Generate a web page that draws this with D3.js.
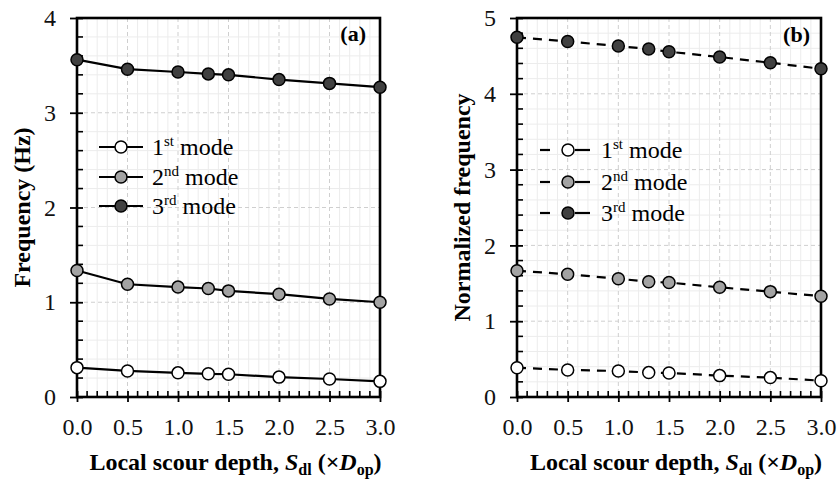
<!DOCTYPE html>
<html>
<head>
<meta charset="utf-8">
<script src="https://cdn.jsdelivr.net/npm/d3@7"></script>
<style>
  html, body { margin: 0; padding: 0; background: #fff; }
  svg { display: block; }
</style>
</head>
<body>
<svg id="chart" width="837" height="480"></svg>
<script>
// Local scour depth (×D_op)
const scourDepth = [0.0, 0.5, 1.0, 1.3, 1.5, 2.0, 2.5, 3.0];

// Panel (a): natural frequency (Hz)
const freqMode1 = [0.31, 0.275, 0.255, 0.245, 0.24, 0.21, 0.19, 0.165];
const freqMode2 = [1.335, 1.19, 1.16, 1.145, 1.12, 1.085, 1.035, 1.00];
const freqMode3 = [3.56, 3.46, 3.43, 3.41, 3.40, 3.35, 3.31, 3.27];

// Panel (b): normalized frequency
const normMode1 = [0.387, 0.357, 0.343, 0.322, 0.317, 0.282, 0.256, 0.215];
const normMode2 = [1.666, 1.62, 1.56, 1.52, 1.51, 1.447, 1.39, 1.33];
const normMode3 = [4.745, 4.69, 4.63, 4.59, 4.555, 4.485, 4.41, 4.33];

const xTicks = [0.0, 0.5, 1.0, 1.5, 2.0, 2.5, 3.0];
const yTicksA = [0, 1, 2, 3, 4];
const yTicksB = [0, 1, 2, 3, 4, 5];

const modeNames = [["1", "st"], ["2", "nd"], ["3", "rd"]];
const modeFills = ["#ffffff", "#a3a3a3", "#404040"];

const SERIF = "'Liberation Serif'";
const svg = d3.select("#chart");

function drawPanel(cfg) {
  const { left, right, top, bottom, yMax, yTicks, series, dashed, tag, yTitle, yTitleX, legend } = cfg;
  const x = d3.scaleLinear().domain([0, 3]).range([left, right]);
  const y = d3.scaleLinear().domain([0, yMax]).range([bottom, top]);
  const g = svg.append("g");

  // minor grid
  const minorX = d3.range(0, 3.0001, 0.1).filter(v => Math.abs(v * 2 - Math.round(v * 2)) > 1e-6);
  const minorY = d3.range(0, yMax + 0.0001, 0.2).filter(v => Math.abs(v - Math.round(v)) > 1e-6);
  g.append("g").selectAll("line").data(minorX).join("line")
    .attr("x1", d => x(d)).attr("x2", d => x(d)).attr("y1", top).attr("y2", bottom)
    .attr("stroke", "#ececec").attr("stroke-width", 1);
  g.append("g").selectAll("line").data(minorY).join("line")
    .attr("y1", d => y(d)).attr("y2", d => y(d)).attr("x1", left).attr("x2", right)
    .attr("stroke", "#ececec").attr("stroke-width", 1);
  // major grid (dashed)
  g.append("g").selectAll("line").data(xTicks.slice(1, -1)).join("line")
    .attr("x1", d => x(d)).attr("x2", d => x(d)).attr("y1", top).attr("y2", bottom)
    .attr("stroke", "#cfcfcf").attr("stroke-width", 1).attr("stroke-dasharray", "4,3");
  g.append("g").selectAll("line").data(yTicks.slice(1, -1)).join("line")
    .attr("y1", d => y(d)).attr("y2", d => y(d)).attr("x1", left).attr("x2", right)
    .attr("stroke", "#cfcfcf").attr("stroke-width", 1).attr("stroke-dasharray", "4,3");

  // minor ticks (inside)
  g.append("g").selectAll("line").data(minorX).join("line")
    .attr("x1", d => x(d)).attr("x2", d => x(d)).attr("y1", bottom).attr("y2", bottom - 6)
    .attr("stroke", "#000").attr("stroke-width", 1.6);
  g.append("g").selectAll("line").data(minorY).join("line")
    .attr("y1", d => y(d)).attr("y2", d => y(d)).attr("x1", left).attr("x2", left + 6)
    .attr("stroke", "#000").attr("stroke-width", 1.6);

  // major ticks and labels via d3 axes
  const xAxis = d3.axisBottom(x).tickValues(xTicks).tickFormat(d3.format(".1f"))
    .tickSizeInner(5).tickSizeOuter(0).tickPadding(16);
  const gx = g.append("g").attr("transform", `translate(0,${bottom})`).call(xAxis)
    .attr("font-family", null);
  gx.select(".domain").remove();
  gx.selectAll(".tick line").attr("stroke-width", 1.8).attr("y1", -6);
  gx.selectAll(".tick text").attr("font-size", 24).style("font-family", SERIF).attr("fill", "#111");

  const yAxis = d3.axisLeft(y).tickValues(yTicks).tickFormat(d3.format("d"))
    .tickSizeInner(7).tickSizeOuter(0).tickPadding(14);
  const gy = g.append("g").attr("transform", `translate(${left},0)`).call(yAxis)
    .attr("font-family", null);
  gy.select(".domain").remove();
  gy.selectAll(".tick line").attr("stroke-width", 1.8).attr("x1", 6);
  gy.selectAll(".tick text").attr("font-size", 24).style("font-family", SERIF).attr("fill", "#111");

  // frame
  g.append("rect").attr("x", left).attr("y", top).attr("width", right - left).attr("height", bottom - top)
    .attr("fill", "none").attr("stroke", "#000").attr("stroke-width", 2.6);

  // series lines and markers
  const line = d3.line().x((d, i) => x(scourDepth[i])).y(d => y(d));
  series.forEach(vals => {
    g.append("path").datum(vals).attr("d", line)
      .attr("fill", "none").attr("stroke", "#000").attr("stroke-width", 2.2)
      .attr("stroke-dasharray", dashed ? "9,7" : null);
  });
  series.forEach((vals, k) => {
    g.append("g").selectAll("circle").data(vals).join("circle")
      .attr("cx", (d, i) => x(scourDepth[i])).attr("cy", d => y(d)).attr("r", 6)
      .attr("fill", modeFills[k]).attr("stroke", "#000").attr("stroke-width", 1.5);
  });

  // panel tag
  g.append("text").attr("x", tag.x).attr("y", tag.y).attr("text-anchor", "end")
    .attr("font-size", 22).attr("font-weight", "bold").style("font-family", SERIF).text(tag.text);

  // y title
  g.append("text").attr("transform", `translate(${yTitleX},${(top + bottom) / 2}) rotate(-90)`)
    .attr("text-anchor", "middle").attr("font-size", 24).attr("font-weight", "bold")
    .style("font-family", SERIF).text(yTitle);

  // x title
  const xt = g.append("text").attr("x", (left + right) / 2 + 7).attr("y", 470)
    .attr("text-anchor", "middle").attr("font-size", 24).attr("font-weight", "bold")
    .style("font-family", SERIF);
  xt.append("tspan").text("Local scour depth, ");
  xt.append("tspan").attr("font-style", "italic").text("S");
  xt.append("tspan").attr("font-size", 16).attr("dy", 5).text("dl");
  xt.append("tspan").attr("dy", -5).text(" (×");
  xt.append("tspan").attr("font-style", "italic").text("D");
  xt.append("tspan").attr("font-size", 16).attr("dy", 5).text("op");
  xt.append("tspan").attr("dy", -5).text(")");

  // legend
  modeNames.forEach((nm, k) => {
    const ly = legend.ys[k];
    if (dashed) {
      g.append("line").attr("x1", legend.x0).attr("x2", legend.x0 + 10).attr("y1", ly).attr("y2", ly)
        .attr("stroke", "#000").attr("stroke-width", 2.2);
      g.append("line").attr("x1", legend.cx + 7).attr("x2", legend.x1).attr("y1", ly).attr("y2", ly)
        .attr("stroke", "#000").attr("stroke-width", 2.2);
    } else {
      g.append("line").attr("x1", legend.x0).attr("x2", legend.x1).attr("y1", ly).attr("y2", ly)
        .attr("stroke", "#000").attr("stroke-width", 2.2);
    }
    g.append("circle").attr("cx", legend.cx).attr("cy", ly).attr("r", 6)
      .attr("fill", modeFills[k]).attr("stroke", "#000").attr("stroke-width", 1.5);
    const t = g.append("text").attr("x", legend.tx).attr("y", ly + 8).attr("font-size", 24)
      .style("font-family", SERIF);
    t.append("tspan").text(nm[0]);
    t.append("tspan").attr("font-size", 15).attr("dy", -9).text(nm[1]);
    t.append("tspan").attr("dy", 9).text(" mode");
  });
}

drawPanel({
  left: 77, right: 380, top: 18, bottom: 397, yMax: 4, yTicks: yTicksA,
  series: [freqMode1, freqMode2, freqMode3], dashed: false,
  tag: { x: 366, y: 41, text: "(a)" },
  yTitle: "Frequency (Hz)", yTitleX: 30,
  legend: { x0: 99, x1: 143, cx: 121, tx: 152, ys: [147, 177, 206] }
});

drawPanel({
  left: 517, right: 821, top: 18, bottom: 397, yMax: 5, yTicks: yTicksB,
  series: [normMode1, normMode2, normMode3], dashed: true,
  tag: { x: 810, y: 42, text: "(b)" },
  yTitle: "Normalized frequency", yTitleX: 470,
  legend: { x0: 540, x1: 590, cx: 568, tx: 601, ys: [150, 182, 213] }
});
</script>
</body>
</html>
